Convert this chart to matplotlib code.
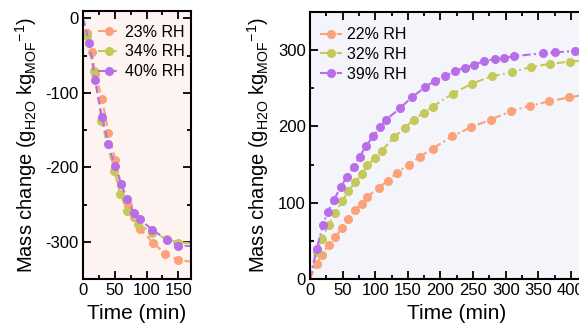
import matplotlib.pyplot as plt
import numpy as np

plt.rcParams['font.family'] = ['Liberation Sans', 'DejaVu Sans']
plt.rcParams['mathtext.fontset'] = 'custom'
plt.rcParams['mathtext.rm'] = 'Liberation Sans'
plt.rcParams['axes.unicode_minus'] = False

# desorption (left)
t_23 = [0, 7, 14, 19, 30, 40, 51, 60, 71, 80, 90, 110, 129, 150, 178]
m_23 = [0, -20, -45, -74, -108, -154, -190, -223, -250, -267, -283, -301, -316, -324, -328]
t_34 = [0, 6, 18, 29, 49, 59, 69, 87, 109, 132, 150, 178]
m_34 = [0, -24, -71, -138, -205, -236, -258, -276, -288, -296, -301, -302]
t_40 = [0, 10, 19, 30, 40, 50, 60, 70, 80, 90, 109, 132, 150, 178]
m_40 = [0, -33, -83, -133, -169, -198, -223, -243, -261, -270, -284, -297, -305, -306]

# adsorption (right)
t_22 = [0, 10, 18, 29, 39, 49, 59, 69, 79, 88, 105, 119, 133, 151, 168, 188, 218, 247, 277,
        308, 337, 367, 397, 430]
m_22 = [0, 20, 32, 45, 55, 67, 79, 90, 98, 108, 119, 129, 139, 150, 160, 171, 187, 199, 209,
        220, 227, 233, 238, 243]
t_32 = [0, 10, 18, 29, 39, 49, 59, 69, 79, 88, 100, 110, 129, 145, 159, 174, 188, 219, 248,
        279, 309, 339, 368, 398, 430]
m_32 = [0, 36, 53, 71, 87, 102, 115, 127, 137, 149, 159, 168, 186, 198, 209, 218, 226, 243,
        256, 266, 271, 278, 282, 285, 287]
t_39 = [0, 10, 20, 27, 37, 47, 57, 67, 76, 86, 97, 107, 117, 138, 156, 177, 192, 207, 223,
        237, 252, 267, 283, 297, 312, 357, 376, 406, 430]
m_39 = [0, 39, 71, 88, 104, 121, 134, 147, 160, 175, 187, 199, 209, 224, 238, 252, 260, 266,
        273, 277, 281, 286, 288, 290, 292, 296, 297, 299, 300]

c_or = '#fca27a'
c_gr = '#c5c85a'
c_pu = '#b86ee8'

fig = plt.figure(figsize=(5.79, 3.25), dpi=100)
ax1 = fig.add_axes([83 / 579, 1 - 279 / 325, 108 / 579, 268 / 325])
ax2 = fig.add_axes([310 / 579, 1 - 279 / 325, 293.6 / 579, 267 / 325])

ax1.set_facecolor('#fdf4f1')
ax2.set_facecolor('#f3f5fa')

kw = dict(marker='o', markersize=5.5, linewidth=1.5, markevery=slice(1, None))
ax1.plot(t_23, m_23, color=c_or, linestyle=(0, (3.5, 2)), label='23% RH', **kw)
ax1.plot(t_34, m_34, color=c_gr, linestyle=(0, (3.5, 2)), label='34% RH', **kw)
ax1.plot(t_40, m_40, color=c_pu, linestyle=(0, (3.5, 2)), label='40% RH', **kw)

ax2.plot(t_22, m_22, color=c_or, linestyle=(0, (4, 1.5, 1, 1.5)), label='22% RH', **kw)
ax2.plot(t_32, m_32, color=c_gr, linestyle=(0, (4, 1.5, 1, 1.5)), label='32% RH', **kw)
ax2.plot(t_39, m_39, color=c_pu, linestyle=(0, (4, 1.5, 1, 1.5)), label='39% RH', **kw)

ax1.set_xlim(0, 170)
ax1.set_ylim(-350, 10)
ax1.set_xticks([0, 50, 100, 150])
ax1.set_xticks(np.arange(0, 171, 25), minor=True)
ax1.set_yticks([-300, -200, -100, 0])
ax1.set_yticks(np.arange(-350, 1, 50), minor=True)

ax2.set_xlim(0, 450)
ax2.set_ylim(0, 350)
ax2.set_xticks(np.arange(0, 451, 50))
ax2.set_xticks(np.arange(0, 451, 25), minor=True)
ax2.set_yticks([0, 100, 200, 300])
ax2.set_yticks(np.arange(0, 351, 50), minor=True)

ylab = 'Mass change (g$_{\\mathregular{H2O}}$ kg$_{\\mathregular{MOF}}$$^{\\mathregular{-1}}$)'
for ax in (ax1, ax2):
    for s in ax.spines.values():
        s.set_linewidth(1.5)
    ax.tick_params(which='both', direction='in', top=True, right=True, width=1.3,
                   labelsize=12, pad=3)
    ax.tick_params(which='major', length=5.5)
    ax.tick_params(which='minor', length=3)
    ax.set_xlabel('Time (min)', fontsize=15, labelpad=4)
    ax.set_ylabel(ylab, fontsize=14.5, labelpad=5)

ax1.legend(loc='upper right', frameon=False, fontsize=11.5, handlelength=1.4,
           handletextpad=0.3, labelspacing=0.3, borderaxespad=0.2, bbox_to_anchor=(1.03, 0.985))
ax2.legend(loc='upper left', frameon=False, fontsize=11.5, handlelength=1.4,
           handletextpad=0.3, labelspacing=0.3, borderaxespad=0.3, bbox_to_anchor=(-0.005, 0.985))

fig.savefig('out.png', dpi=100)
